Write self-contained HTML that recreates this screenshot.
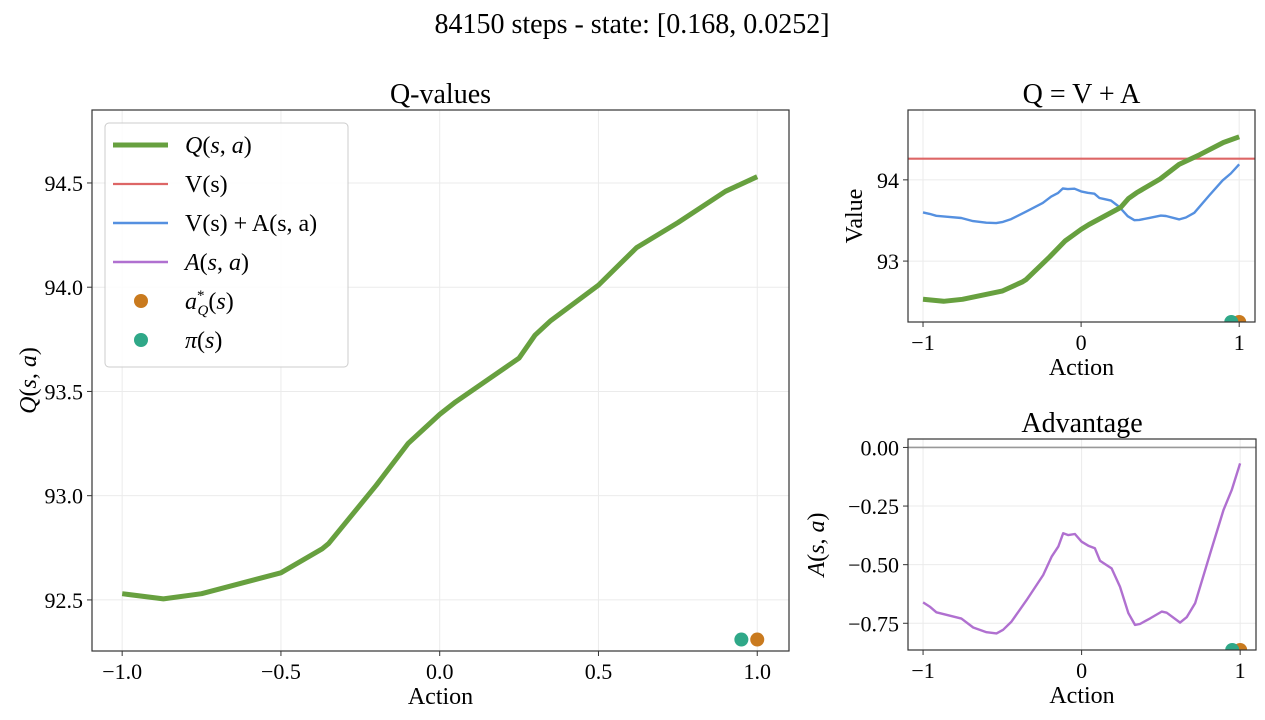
<!DOCTYPE html>
<html><head><meta charset="utf-8"><style>
body{margin:0;background:#fff;}
svg{display:block;font-family:"Liberation Serif","DejaVu Serif",serif;}
</style></head><body>
<svg id="fig" width="1265" height="720" viewBox="0 0 1265 720">
<text x="632" y="33" font-size="28" text-anchor="middle">84150 steps - state: [0.168, 0.0252]</text>
</svg>
<script>
const actions=[-1.0,-0.958,-0.916,-0.853,-0.758,-0.684,-0.6,-0.537,-0.495,-0.442,-0.347,-0.242,-0.189,-0.147,-0.116,-0.084,-0.042,0.0,0.042,0.084,0.116,0.147,0.189,0.242,0.295,0.337,0.368,0.432,0.505,0.537,0.621,0.663,0.716,0.811,0.895,0.947,1.0];
const advValues=[-0.661,-0.679,-0.703,-0.714,-0.730,-0.768,-0.788,-0.793,-0.778,-0.743,-0.651,-0.544,-0.466,-0.423,-0.366,-0.374,-0.369,-0.402,-0.419,-0.430,-0.483,-0.497,-0.516,-0.594,-0.707,-0.757,-0.753,-0.729,-0.700,-0.705,-0.747,-0.724,-0.665,-0.452,-0.267,-0.182,-0.068];
const qActions=[-1.0,-0.87,-0.75,-0.5,-0.37,-0.35,-0.2,-0.1,-0.05,0.0,0.05,0.25,0.3,0.35,0.5,0.62,0.75,0.9,1.0];
const qValues=[92.53,92.505,92.53,92.63,92.745,92.77,93.05,93.25,93.32,93.39,93.45,93.66,93.77,93.84,94.01,94.19,94.31,94.46,94.53];
const vValue=94.26;
const greedyAction=1.0;
const policyAction=0.95;
const mainXTicks=[-1.0,-0.5,0.0,0.5,1.0];
const mainXLabels=["\u22121.0","\u22120.5","0.0","0.5","1.0"];
const mainYTicks=[92.5,93.0,93.5,94.0,94.5];
const mainYLabels=["92.5","93.0","93.5","94.0","94.5"];
const smallXTicks=[-1,0,1];
const smallXLabels=["\u22121","0","1"];
const qvYTicks=[93,94];
const qvYLabels=["93","94"];
const advYTicks=[0,-0.25,-0.5,-0.75];
const advYLabels=["0.00","\u22120.25","\u22120.50","\u22120.75"];

const NS="http://www.w3.org/2000/svg";
const fig=document.getElementById('fig');
function el(tag,attrs,parent){const e=document.createElementNS(NS,tag);for(const k in attrs)e.setAttribute(k,attrs[k]);(parent||fig).appendChild(e);return e;}
let clipId=0;
function makeAxes(name,L,T,R,B,xmin,xmax,ymin,ymax,xt,xl,yt,yl,title,tsize){
  const g=el('g',{});
  
  
  const sx=v=>L+(v-xmin)/(xmax-xmin)*(R-L);
  const sy=v=>B-(v-ymin)/(ymax-ymin)*(B-T);
  const id='c'+(clipId++);
  const cp=el('clipPath',{id:id},g);el('rect',{x:L,y:T,width:R-L,height:B-T},cp);
  xt.forEach((t,i)=>{
    const gl=el('line',{x1:sx(t),x2:sx(t),y1:T,y2:B,stroke:'#ebebeb','stroke-width':1},g);
    
    
    el('line',{x1:sx(t),x2:sx(t),y1:B,y2:B+5,stroke:'#333','stroke-width':1},g);
    const tx=el('text',{x:sx(t),y:B+28,'font-size':tsize,'text-anchor':'middle'},g);tx.textContent=xl[i];
    
    
  });
  yt.forEach((t,i)=>{
    const gl=el('line',{x1:L,x2:R,y1:sy(t),y2:sy(t),stroke:'#ebebeb','stroke-width':1},g);
    
    
    el('line',{x1:L-5,x2:L,y1:sy(t),y2:sy(t),stroke:'#333','stroke-width':1},g);
    const tx=el('text',{x:L-9,y:sy(t)+8,'font-size':tsize,'text-anchor':'end'},g);tx.textContent=yl[i];
    
    
  });
  const tt=el('text',{x:(L+R)/2,y:T-7,'font-size':28,'text-anchor':'middle'},g);tt.textContent=title;
  
  
  const xa=el('text',{x:(L+R)/2,y:B+53,'font-size':24,'text-anchor':'middle'},g);xa.textContent='Action';
  
  
  return {g,sx,sy,id,L,T,R,B};
}
function frame(ax){const f=el('rect',{x:ax.L,y:ax.T,width:ax.R-ax.L,height:ax.B-ax.T,fill:'none',stroke:'#333','stroke-width':1.2},ax.g);
  
  }
function line(ax,xs,ys,color,w,name){
  const d=xs.map((x,i)=>(i?'L':'M')+ax.sx(x).toFixed(1)+','+ax.sy(ys[i]).toFixed(1)).join('');
  const p=el('path',{d:d,fill:'none',stroke:color,'stroke-width':w,'stroke-linejoin':'round','clip-path':'url(#'+ax.id+')'},ax.g);
  
  
}
function dot(ax,x,y,color,name){
  const c=el('circle',{cx:ax.sx(x),cy:ax.sy(y),r:7,fill:color,'clip-path':'url(#'+ax.id+')'},ax.g);
  
  
}
function ylab(ax,x,html){
  const t=el('text',{x:x,y:(ax.T+ax.B)/2,'font-size':24,'text-anchor':'middle',transform:'rotate(-90 '+x+' '+(ax.T+ax.B)/2+')'},ax.g);
  t.innerHTML=html;
  
  
}
const G='#67a03f',R='#dd6666',B='#5590e0',P='#b070d0',O='#c97a1e',T='#2fa888';
const vPlusA=advValues.map(a=>vValue+a);

const m=makeAxes('q-values-chart',92,110,789,651,-1.095,1.1,92.255,94.85,mainXTicks,mainXLabels,mainYTicks,mainYLabels,'Q-values',22);
line(m,qActions,qValues,G,5,'q-line');
dot(m,greedyAction,92.31,O,'greedy-action-dot');
dot(m,policyAction,92.31,T,'policy-action-dot');
frame(m);
ylab(m,36,'<tspan font-style="italic">Q</tspan>(<tspan font-style="italic">s</tspan>, <tspan font-style="italic">a</tspan>)');

const q=makeAxes('q-equals-v-plus-a-chart',908,110,1255,322,-1.095,1.1,92.25,94.86,smallXTicks,smallXLabels,qvYTicks,qvYLabels,'Q = V + A',22);
line(q,[-1.2,1.2],[vValue,vValue],R,2.2,'v-line');
line(q,actions,vPlusA,B,2.4,'v-plus-a-line');
line(q,qActions,qValues,G,5,'q-line-small');
dot(q,greedyAction,92.25,O,'greedy-action-dot');
dot(q,policyAction,92.25,T,'policy-action-dot');
frame(q);
ylab(q,862,'Value');

const a=makeAxes('advantage-chart',908,439,1256,650,-1.095,1.1,-0.864,0.036,smallXTicks,smallXLabels,advYTicks,advYLabels,'Advantage',22);
line(a,[-1.2,1.2],[0,0],'#999',1.6,'zero-line');
line(a,actions,advValues,P,2.4,'advantage-line');
dot(a,greedyAction,-0.864,O,'greedy-action-dot');
dot(a,policyAction,-0.864,T,'policy-action-dot');
frame(a);
ylab(a,824,'<tspan font-style="italic">A</tspan>(<tspan font-style="italic">s</tspan>, <tspan font-style="italic">a</tspan>)');

const lg=el('g',{});


el('rect',{x:105,y:123,width:243,height:244,rx:4,fill:'#fff','fill-opacity':0.85,stroke:'#ccc'},lg);
const items=[['line',G,5,'<tspan font-style="italic">Q</tspan>(<tspan font-style="italic">s</tspan>, <tspan font-style="italic">a</tspan>)'],
['line',R,2.2,'V(s)'],['line',B,2.4,'V(s) + A(s, a)'],
['line',P,2.4,'<tspan font-style="italic">A</tspan>(<tspan font-style="italic">s</tspan>, <tspan font-style="italic">a</tspan>)'],
['dot',O,0,'<tspan font-style="italic">a</tspan><tspan font-size="15" dy="-9">*</tspan><tspan font-size="15" font-style="italic" dx="-7" dy="15">Q</tspan><tspan dy="-6">(</tspan><tspan font-style="italic">s</tspan>)'],
['dot',T,0,'<tspan font-style="italic">π</tspan>(<tspan font-style="italic">s</tspan>)']];
items.forEach((it,i)=>{
  const y=145+i*39;
  const e=el('g',{},lg);
  
  
  if(it[0]==='line')el('line',{x1:113,x2:168,y1:y,y2:y,stroke:it[1],'stroke-width':it[2]},e);
  else el('circle',{cx:141,cy:y,r:7,fill:it[1]},e);
  const t=el('text',{x:185,y:y+8,'font-size':24},e);t.innerHTML=it[3];
});
</script>
</body></html>
